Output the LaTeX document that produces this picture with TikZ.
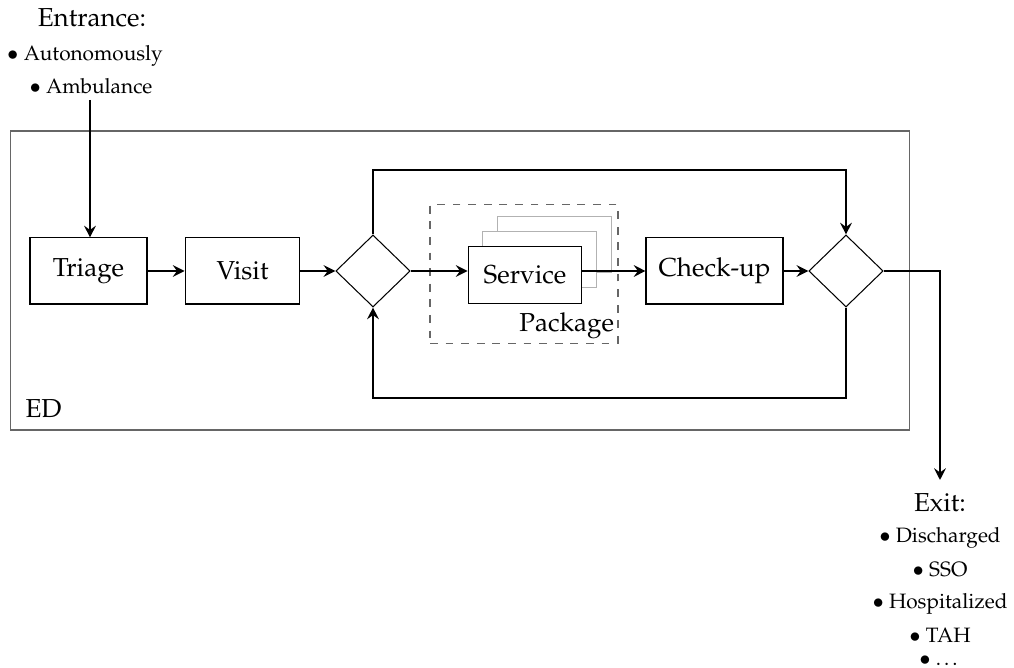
\documentclass[tikz,border=0pt]{standalone}
\usepackage[T1]{fontenc}
\usepackage{mathpazo}
\usetikzlibrary{arrows.meta,shapes.geometric}
\begin{document}
\begin{tikzpicture}[x=0.3846pt,y=-0.3846pt,
  box/.style={draw,thin,minimum width=44pt,minimum height=25.4pt,inner sep=0pt,font=\normalsize},
  dia/.style={draw,thin,diamond,minimum width=28.6pt,minimum height=27.7pt,inner sep=0pt},
  conn/.style={thick,-{Stealth[length=4.5pt,width=4.5pt,inset=1.6pt]}},
  ghost/.style={draw=black!30,thin},
  lst/.style={font=\footnotesize,inner sep=0pt,anchor=base}]
\useasboundingbox (0,0) rectangle (1014,668);
% ED frame
\node[draw=black!60,thin,minimum width=346pt,minimum height=115pt,inner sep=0pt] (ed) at (460,280.5) {};
\node[anchor=west,inner sep=0pt] (edlabel) at (25,409) {ED};
% entrance
\node[inner sep=0pt] (entr) at (92,18) {Entrance:};
\node[lst] (ent1) at (85,61) {$\bullet$ Autonomously};
\node[lst] (ent2) at (91,94) {$\bullet$ Ambulance};
\coordinate (entstart) at (90,100);
% package
\node[draw=black!60,thin,dashed,minimum width=72.3pt,minimum height=53.1pt,inner sep=0pt] (pkg) at (524,274) {};
\node[anchor=south east,inner sep=1.5pt] (pkglabel) at (pkg.south east) {Package};
\node[ghost,fill=white,minimum width=43.8pt,minimum height=21.9pt] (s3) at (554.5,244.5) {};
\node[ghost,fill=white,minimum width=43.8pt,minimum height=21.9pt] (s2) at (539.5,259.5) {};
\node[draw,thin,fill=white,minimum width=43.8pt,minimum height=21.9pt,inner sep=0pt] (serv) at (525,275) {Service};
% boxes
\node[box,minimum width=45pt] (triage) at (88.5,271) {Triage};
\node[box,minimum width=44.2pt] (visit) at (242.5,271) {Visit};
\node[dia] (d1) at (373,271) {};
\node[box,minimum width=52.7pt] (check) at (714.5,271) {Check-up};
\node[dia] (d2) at (846,271) {};
% exit
\node[inner sep=0pt] (exit) at (940,503) {Exit:};
\node[lst] (ex1) at (940,543) {$\bullet$ Discharged};
\node[lst] (ex2) at (940,577) {$\bullet$ SSO};
\node[lst] (ex3) at (940,609) {$\bullet$ Hospitalized};
\node[lst] (ex4) at (940,643) {$\bullet$ TAH};
\node[lst] (ex5) at (940,666) {$\bullet$ \dots};
\coordinate (exend) at (940,480);
% connectors
\draw[conn] (entstart) -- (triage.north -| entstart);
\draw[conn] (triage) -- (visit);
\draw[conn] (visit) -- (d1);
\draw[conn] (d1.east) -- (d1.east -| serv.west);
\draw[conn] (d1.east -| serv.east) -- (check.west);
\draw[conn] (check) -- (d2);
\draw[conn] (d1.north) -- (373,170) -- (846,170) -- (d2.north);
\draw[conn] (d2.south) -- (846,398) -- (373,398) -- (d1.south);
\draw[conn] (d2.east) -- (940,271) -- (exend);
\end{tikzpicture}
\end{document}
